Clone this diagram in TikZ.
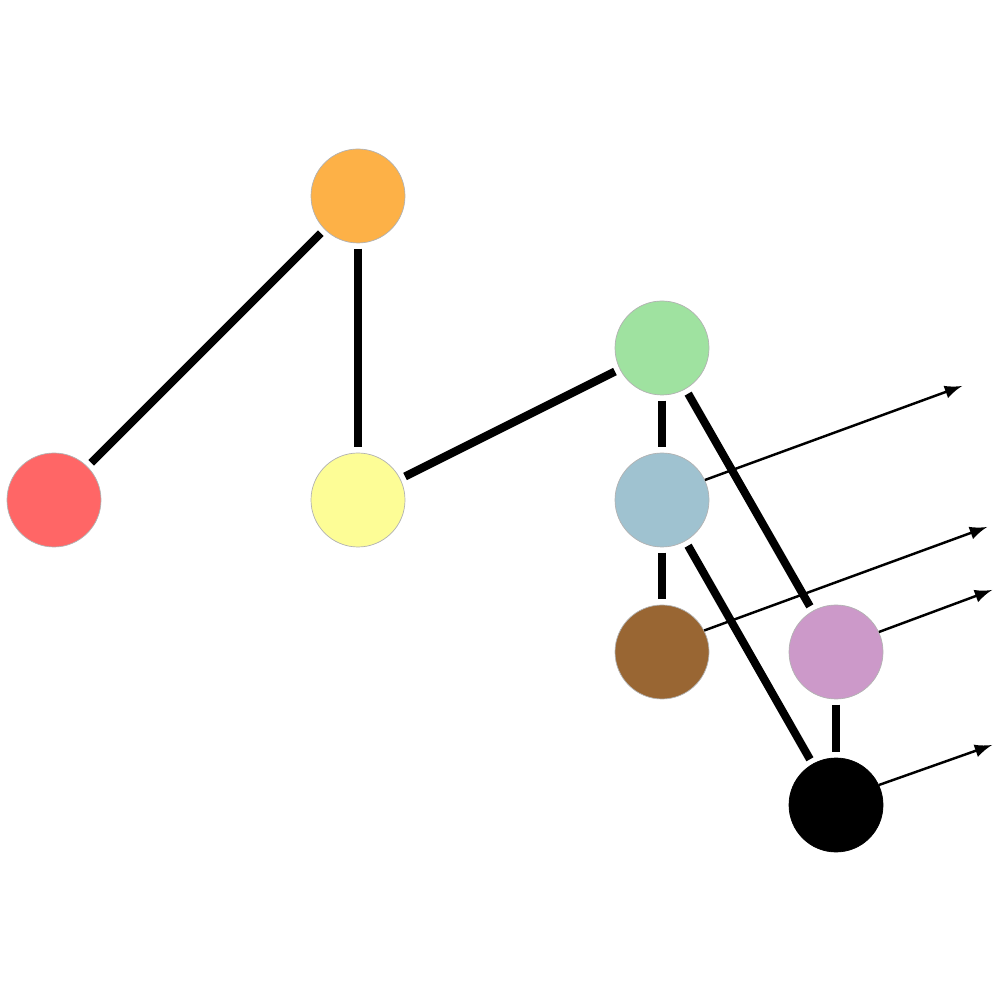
\documentclass[tikz,border=0pt]{standalone}
\usepackage{tikz}
\usetikzlibrary{arrows}

\definecolor{cred}{HTML}{FF6666}
\definecolor{corange}{HTML}{FDB147}
\definecolor{cyellow}{HTML}{FDFD96}
\definecolor{cgreen}{HTML}{9FE2A0}
\definecolor{cblue}{HTML}{9FC2D0}
\definecolor{cbrown}{HTML}{996633}
\definecolor{cpurple}{HTML}{CC99C9}

\begin{document}
\begin{tikzpicture}[-,>=latex,auto,node distance=3.04cm,
  main node/.style={circle,minimum size=0.94cm,inner sep=0pt,draw=gray!60,line width=0.2pt},
  bond/.style={line width=2.3pt,shorten >=1.5pt,shorten <=1.5pt},
  ray/.style={->,line width=0.7pt}]

  \useasboundingbox (-0.54,-5.0) rectangle (9.46,5.0);

  \node[main node,fill=cred] (1) {};
  \node[main node,fill=cyellow] (2) [right of=1] {};
  \node[main node,fill=cblue] (3) [right of=2] {};
  \node[main node,fill=corange] (4) [above of=2] {};
  \node[main node,fill=cgreen] (5) [above of=3,node distance=1.52cm] {};
  \node[main node,fill=cbrown] (6) [below of=3,node distance=1.52cm] {};
  \node[main node,fill=cpurple] (7) [right of=6,node distance=1.74cm] {};
  \node[main node,fill=black,draw=black] (8) [below of=7,node distance=1.53cm] {};

  \coordinate (r3) at (9.08,1.14);
  \coordinate (r6) at (9.33,-0.27);
  \coordinate (r7) at (9.38,-0.90);
  \coordinate (r8) at (9.38,-2.45);

  \path[bond]
    (1) edge (4)
    (4) edge (2)
    (2) edge (5)
    (5) edge (3)
    (5) edge (7)
    (3) edge (6)
    (3) edge (8)
    (7) edge (8)
    ;

  \path[ray]
    (3.25) edge (r3)
    (6.27) edge (r6)
    (7.25) edge (r7)
    (8.25) edge (r8)
    ;
\end{tikzpicture}
\end{document}
